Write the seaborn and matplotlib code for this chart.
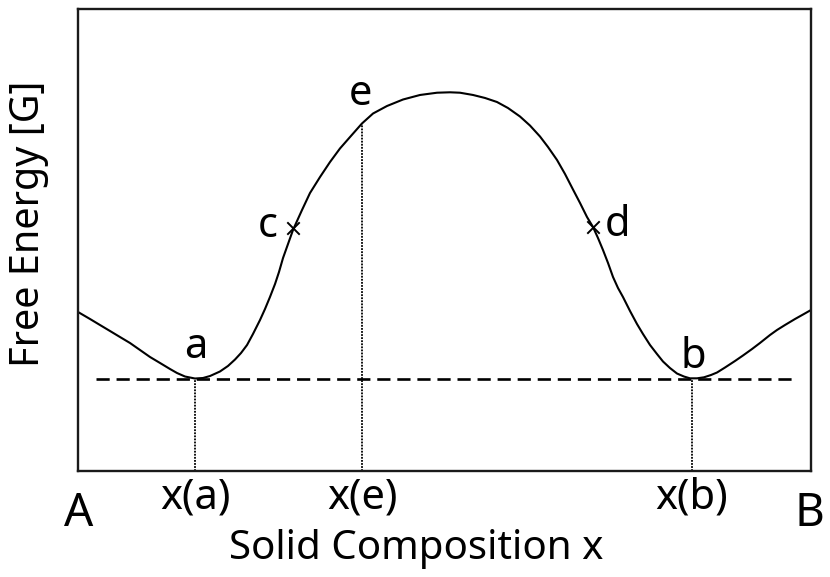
import matplotlib
matplotlib.use("Agg")
import matplotlib.pyplot as plt
import seaborn as sns
import pandas as pd

# Free-energy curve of a binary solid solution with a miscibility gap
composition = [0.00, 1.64, 3.00, 4.37, 5.73, 7.09, 8.46, 9.82, 11.19, 12.55,
               13.51, 14.60, 15.96, 17.05, 18.01, 19.37, 20.46, 21.42, 22.24, 23.06,
               23.87, 24.83, 25.51, 26.19, 26.88, 27.42, 27.97, 28.65, 29.33, 29.88,
               30.56, 31.65, 33.02, 34.38, 35.74, 37.11, 38.74, 40.25, 42.15, 44.34,
               46.66, 48.98, 50.75, 52.11, 53.89, 55.53, 57.16, 58.66, 60.30, 61.66,
               63.03, 64.12, 65.35, 66.44, 67.53, 68.49, 69.44, 70.26, 70.94, 71.62,
               72.31, 72.99, 73.67, 74.35, 75.31, 76.26, 77.08, 78.04, 78.99, 79.81,
               80.76, 81.72, 82.67, 83.49, 84.45, 85.40, 86.36, 87.18, 88.27, 89.63,
               90.72, 91.96, 93.04, 94.41, 95.36, 96.45, 97.82, 98.91, 100.00]
free_energy = [34.42, 32.90, 31.60, 30.30, 29.00, 27.71, 26.19, 24.68, 23.38, 22.08,
               21.21, 20.45, 20.02, 20.13, 20.56, 21.54, 22.73, 24.13, 25.54, 27.27,
               29.65, 32.68, 35.06, 37.66, 40.48, 43.07, 46.10, 49.13, 52.16, 54.11,
               56.49, 60.17, 63.64, 66.88, 69.81, 72.29, 75.22, 77.38, 79.00, 80.41,
               81.39, 81.88, 81.97, 81.88, 81.39, 80.74, 79.87, 78.57, 76.73, 74.78,
               72.40, 70.13, 67.32, 64.29, 60.93, 58.01, 54.98, 52.81, 50.43, 47.84,
               45.02, 41.99, 39.61, 37.66, 34.63, 31.82, 29.65, 27.27, 25.32, 23.70,
               22.29, 21.10, 20.45, 20.06, 20.06, 20.28, 20.78, 21.32, 22.40, 23.81,
               25.00, 26.41, 27.71, 29.44, 30.52, 31.60, 32.90, 33.87, 34.85]

# Special points on the curve
point_names = ["a", "b", "c", "d", "e"]
point_x = [15.96, 83.77, 29.33, 70.26, 38.74]
point_g = [19.91, 19.91, 52.60, 52.81, 75.22]

# Common tangent and its extent
tangent_g = 19.91
tangent_span = [2.46, 97.8]

tick_positions = [15.96, 38.74, 83.77]
tick_labels = ["x(a)", "x(e)", "x(b)"]

sns.set_style("white")
plt.rcParams["font.family"] = ["Noto Sans", "DejaVu Sans"]
plt.rcParams["text.color"] = "black"
plt.rcParams["axes.labelcolor"] = "black"
plt.rcParams["xtick.color"] = "black"

fig = plt.figure(figsize=(8.3, 5.77), dpi=100)
ax = fig.add_axes([78 / 830, 106 / 577, 733 / 830, 462 / 577])

curve = pd.DataFrame({"x": composition, "G": free_energy})
sns.lineplot(data=curve, x="x", y="G", sort=False, color="black", linewidth=1.5,
             ax=ax, solid_joinstyle="round", solid_capstyle="round")

# common tangent through a and b
ax.plot(tangent_span, [tangent_g, tangent_g], color="black", linewidth=1.9,
        linestyle=(0, (5.0, 2.6)))

# drop lines from a, e, b to the composition axis
pts = dict(zip(point_names, zip(point_x, point_g)))
for name in ["a", "e", "b"]:
    px, pg = pts[name]
    ax.plot([px, px], [0, pg], color="black", linewidth=1.3, linestyle=(0, (1.0, 0.7)))

# spinodal points c and d
marks = pd.DataFrame({"x": [pts["c"][0], pts["d"][0]], "G": [pts["c"][1], pts["d"][1]]})
sns.scatterplot(data=marks, x="x", y="G", marker="x", s=80, color="black",
                linewidth=1.4, ax=ax, zorder=5)

# point labels, offset in pixels from their points
label_offsets = {"a": (1, 21), "b": (1, 11), "c": (-25, -9), "d": (24.5, -9), "e": (-2, 18.5)}
for name, (dx, dy) in label_offsets.items():
    ax.annotate(name, xy=pts[name], xytext=(dx, dy), textcoords="offset pixels",
                ha="center", va="baseline", fontsize=30)

ax.set_xlim(0, 100)
ax.set_ylim(0, 100)
ax.set_xticks(tick_positions)
ax.set_xticklabels(tick_labels, fontsize=30)
ax.tick_params(axis="x", length=0, pad=4)
ax.set_yticks([])
ax.set_xlabel("Solid Composition x", fontsize=29)
ax.xaxis.set_label_coords(0.461, -0.126)
ax.set_ylabel("Free Energy [G]", fontsize=28.5)
ax.yaxis.set_label_coords(-0.040, 0.535)

for s in ax.spines.values():
    s.set_color("#1a1a1a")
    s.set_linewidth(1.7)

# end-member labels
fig.text(79 / 830, 1 - 526 / 577, "A", ha="center", va="baseline", fontsize=33)
fig.text(809 / 830, 1 - 526 / 577, "B", ha="center", va="baseline", fontsize=33)

fig.savefig("out.png", dpi=100)
